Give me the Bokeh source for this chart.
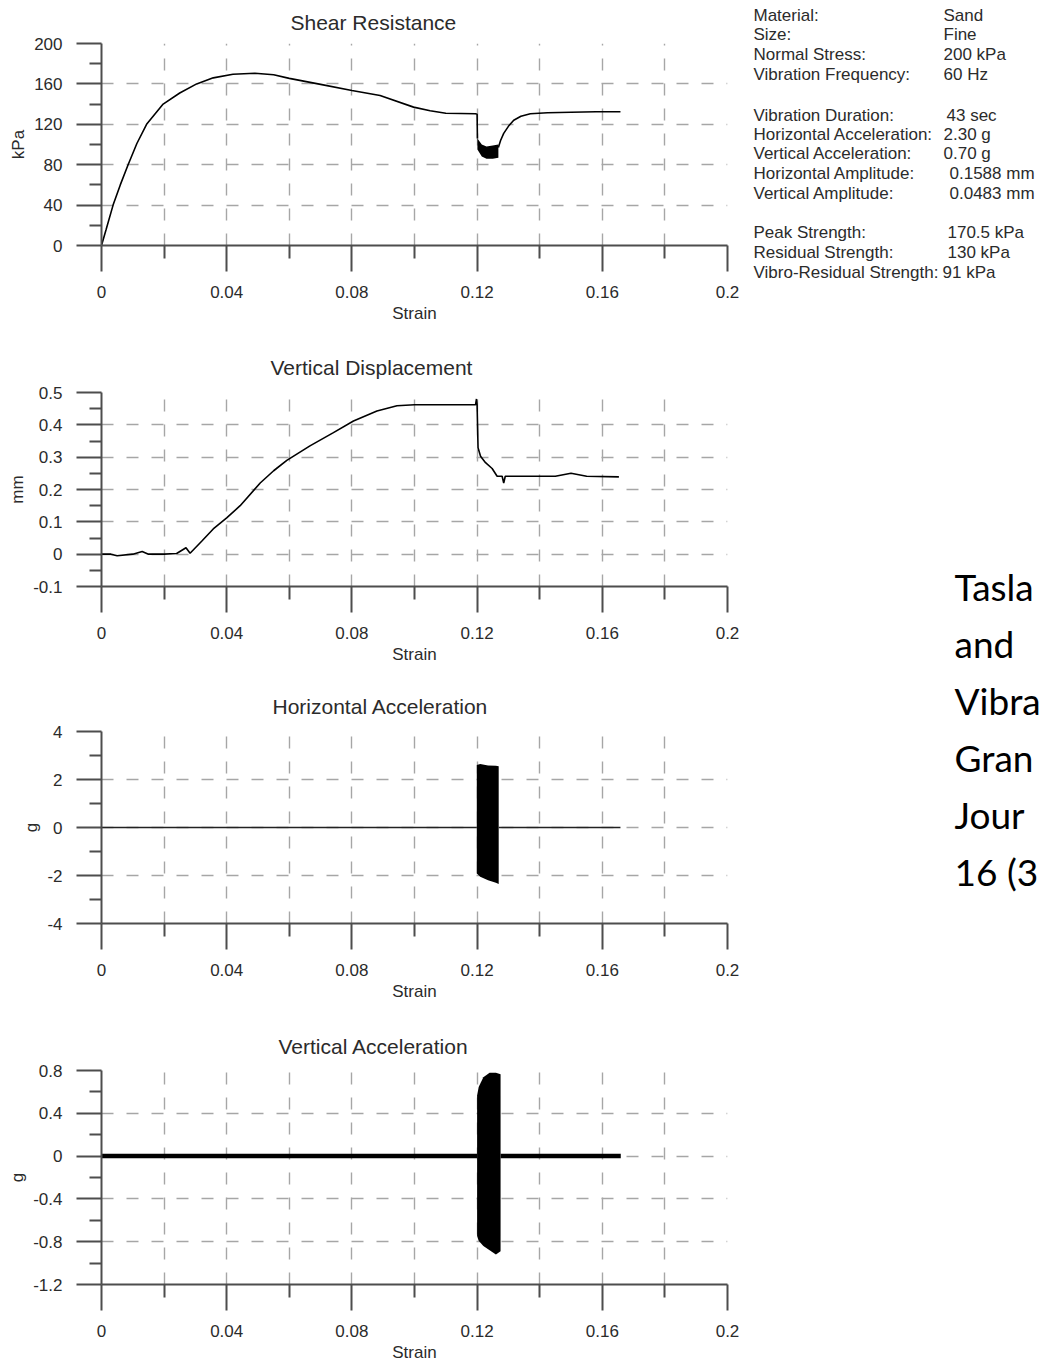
from bokeh.plotting import figure
from bokeh.layouts import column, row
from bokeh.models import Range1d, FixedTicker, Label, NumeralTickFormatter
from bokeh.embed import file_html
from bokeh.resources import INLINE

FONT = "Liberation Sans"
TXT = "#2b2b2b"
AXC = "#4d4d4d"
GRIDC = "#a6a6a6"

# ---------------- data ----------------
x_ticks = [0, 0.04, 0.08, 0.12, 0.16, 0.2]
x_minor = [0.02, 0.06, 0.1, 0.14, 0.18]
x_tick_labels = ["0", "0.04", "0.08", "0.12", "0.16", "0.2"]

# Shear resistance (kPa) vs strain
sr_pre_strain = [0, 0.0015, 0.0037, 0.006, 0.0085, 0.0113, 0.0144, 0.0197, 0.025, 0.0304,
                 0.0357, 0.042, 0.049, 0.055, 0.060, 0.070, 0.080, 0.089, 0.0997, 0.105,
                 0.110, 0.1195, 0.1200, 0.1201]
sr_pre_kpa = [0, 16, 40, 60, 80, 101, 120, 140, 151, 160,
              166, 169.5, 170.5, 169, 165.5, 159.5, 153.5, 148.5, 137, 133.5,
              131, 130.5, 130, 106]
sr_vib_strain = [0.1201, 0.1215, 0.1230, 0.1250, 0.1268]
sr_vib_hi = [106, 100, 98, 99, 100]
sr_vib_lo = [95, 88, 86, 86, 87]
sr_post_strain = [0.1268, 0.1275, 0.1285, 0.1300, 0.1317, 0.1340, 0.1370, 0.1425, 0.150, 0.158, 0.1658]
sr_post_kpa = [97, 104, 111, 118, 124, 128, 130.5, 131.5, 132, 132.5, 132.5]

# Vertical displacement (mm) vs strain
vd_strain = [0, 0.003, 0.005, 0.010, 0.013, 0.015, 0.020, 0.024, 0.027, 0.0283, 0.032, 0.0357,
             0.040, 0.0443, 0.0507, 0.055, 0.0592, 0.0666, 0.0741, 0.0805, 0.088, 0.0944,
             0.100, 0.110, 0.1195, 0.1198, 0.1200, 0.1203, 0.1211, 0.1227, 0.1248, 0.1264,
             0.1280, 0.1285, 0.1290, 0.135, 0.145, 0.150, 0.155, 0.1653]
vd_mm = [0, 0.0, -0.005, 0, 0.008, 0, 0, 0.002, 0.02, 0.003, 0.04, 0.078,
         0.112, 0.15, 0.22, 0.258, 0.29, 0.335, 0.376, 0.412, 0.443, 0.459,
         0.462, 0.462, 0.462, 0.48, 0.462, 0.329, 0.303, 0.283, 0.265, 0.241,
         0.241, 0.22, 0.241, 0.241, 0.241, 0.25, 0.241, 0.239]

# Horizontal acceleration (g) vs strain
ha_pre_strain = [0, 0.1199]
ha_pre_g = [0, 0]
ha_vib_strain = [0.1199, 0.1210, 0.1235, 0.1260, 0.1269]
ha_vib_hi = [2.6, 2.65, 2.58, 2.57, 2.55]
ha_vib_lo = [-1.92, -2.05, -2.2, -2.3, -2.35]
ha_post_strain = [0.1269, 0.1658]
ha_post_g = [0, 0]

# Vertical acceleration (g) vs strain
va_pre_strain = [0, 0.1200]
va_pre_g = [0, 0]
va_vib_strain = [0.1200, 0.1205, 0.1220, 0.1240, 0.1260, 0.1275]
va_vib_hi = [0.566, 0.645, 0.737, 0.78, 0.78, 0.765]
va_vib_lo = [-0.746, -0.79, -0.84, -0.88, -0.92, -0.89]
va_post_strain = [0.1275, 0.1659]
va_post_g = [0, 0]

# Test information
info_names = ["Material:", "Size:", "Normal Stress:", "Vibration Frequency:",
              "Vibration Duration:", "Horizontal Acceleration:", "Vertical Acceleration:",
              "Horizontal Amplitude:", "Vertical Amplitude:",
              "Peak Strength:", "Residual Strength:", "Vibro-Residual Strength:"]
info_values = ["Sand", "Fine", "200 kPa", "60 Hz",
               "43 sec", "2.30 g", "0.70 g", "0.1588 mm", "0.0483 mm",
               "170.5 kPa", "130 kPa", "91 kPa"]
info_y = [15, 34, 54, 74, 115, 134, 153, 173, 193, 232, 252, 272]
info_val_x = [203, 203, 203, 203, 206, 203, 203, 209, 209, 207, 207, 202]

ref_lines = ["Tasla", "and", "Vibra", "Gran", "Jour", "16 (3"]
ref_baseline = [586, 643, 700, 757, 814, 871]


def make_chart(title, title_left, title_standoff, ylabel, yr, yticks, ylabels, yminor, fmt,
               top, frame_h, bottom, lab_standoff=14, axlab_standoff=3):
    p = figure(frame_width=626, frame_height=frame_h,
               x_range=Range1d(0, 0.2), y_range=Range1d(yr[0], yr[1]),
               output_backend="svg", toolbar_location=None,
               min_border_left=101, min_border_right=13,
               min_border_top=top, min_border_bottom=bottom,
               background_fill_color="white", border_fill_color="white")
    p.outline_line_color = None
    p.title.text = title
    p.title.align = "left"
    p.title.vertical_align = "top"
    p.title.offset = title_left - 101
    p.title.standoff = title_standoff
    p.title.text_font = FONT
    p.title.text_font_size = "21px"
    p.title.text_font_style = "normal"
    p.title.text_color = TXT
    xt = FixedTicker(ticks=x_ticks, minor_ticks=x_minor)
    yt = FixedTicker(ticks=yticks, minor_ticks=yminor)
    xa = p.xaxis[0]
    ya = p.yaxis[0]
    xa.ticker = xt
    ya.ticker = yt
    p.xgrid[0].ticker = xt
    p.ygrid[0].ticker = yt
    xa.formatter = NumeralTickFormatter(format="0.[00]")
    ya.formatter = NumeralTickFormatter(format=fmt)
    xa.major_label_overrides = dict(zip(x_ticks, x_tick_labels))
    ya.major_label_overrides = dict(zip(yticks, ylabels))
    for ax in (xa, ya):
        ax.axis_line_color = AXC
        ax.axis_line_width = 2
        ax.major_tick_line_color = AXC
        ax.major_tick_line_width = 2
        ax.minor_tick_line_color = AXC
        ax.minor_tick_line_width = 2
        ax.major_tick_in = 0
        ax.minor_tick_in = 0
        ax.major_label_text_font = FONT
        ax.major_label_text_font_size = "17px"
        ax.major_label_text_color = TXT
        ax.axis_label_text_font = FONT
        ax.axis_label_text_font_size = "17px"
        ax.axis_label_text_font_style = "normal"
        ax.axis_label_text_color = TXT
    xa.major_tick_out = 26
    xa.minor_tick_out = 13
    ya.major_tick_out = 25
    ya.minor_tick_out = 12
    xa.major_label_standoff = lab_standoff
    xa.axis_label = "Strain"
    xa.axis_label_standoff = axlab_standoff
    ya.major_label_standoff = 14
    ya.axis_label = ylabel
    ya.axis_label_standoff = 3
    for g in (p.xgrid[0], p.ygrid[0]):
        g.grid_line_color = GRIDC
        g.grid_line_width = 1.4
        g.grid_line_dash = "12 13"
    p.xgrid[0].minor_grid_line_color = GRIDC
    p.xgrid[0].minor_grid_line_width = 1.4
    p.xgrid[0].minor_grid_line_dash = "12 13"
    return p


p1 = make_chart("Shear Resistance", 290, 16, "kPa", (0, 200),
                [0, 40, 80, 120, 160, 200], ["0", "40", "80", "120", "160", "200"],
                [20, 60, 100, 140, 180], "0", 43, 202, 95)
p1.line(sr_pre_strain, sr_pre_kpa, line_color="black", line_width=1.6)
p1.varea(x=sr_vib_strain, y1=sr_vib_lo, y2=sr_vib_hi, fill_color="black")
p1.line(sr_post_strain, sr_post_kpa, line_color="black", line_width=1.6)

p2 = make_chart("Vertical Displacement", 270, 24, "mm", (-0.1, 0.5),
                [-0.1, 0, 0.1, 0.2, 0.3, 0.4, 0.5],
                ["-0.1", "0", "0.1", "0.2", "0.3", "0.4", "0.5"],
                [-0.05, 0.05, 0.15, 0.25, 0.35, 0.45], "0.[0]", 52, 194, 94)
p2.line(vd_strain, vd_mm, line_color="black", line_width=1.6)

p3 = make_chart("Horizontal Acceleration", 272, 23, "g", (-4, 4),
                [-4, -2, 0, 2, 4], ["-4", "-2", "0", "2", "4"],
                [-3, -1, 1, 3], "0", 51, 192, 97)
p3.line(ha_pre_strain, ha_pre_g, line_color="#222222", line_width=1.5)
p3.varea(x=ha_vib_strain, y1=ha_vib_lo, y2=ha_vib_hi, fill_color="black")
p3.line(ha_post_strain, ha_post_g, line_color="#222222", line_width=1.5)

p4 = make_chart("Vertical Acceleration", 278, 22, "g", (-1.2, 0.8),
                [-1.2, -0.8, -0.4, 0, 0.4, 0.8],
                ["-1.2", "-0.8", "-0.4", "0", "0.4", "0.8"],
                [-1.0, -0.6, -0.2, 0.2, 0.6], "0.[0]", 50, 214, 78)
p4.line(va_pre_strain, va_pre_g, line_color="black", line_width=4.5)
p4.varea(x=va_vib_strain, y1=va_vib_lo, y2=va_vib_hi, fill_color="black")
p4.line(va_post_strain, va_post_g, line_color="black", line_width=4.5)

# right-hand text panel
t = figure(width=300, height=1362, x_range=Range1d(0, 300), y_range=Range1d(1362, 0),
           output_backend="svg", toolbar_location=None,
           min_border=0, min_border_left=0, min_border_right=0,
           min_border_top=0, min_border_bottom=0)
t.axis.visible = False
t.grid.visible = False
t.outline_line_color = None
for name, val, yy, vx in zip(info_names, info_values, info_y, info_val_x):
    t.add_layout(Label(x=13, y=yy, text=name, text_baseline="middle", text_align="left",
                       text_font=FONT, text_font_size="17px", text_color=TXT))
    t.add_layout(Label(x=vx, y=yy, text=val, text_baseline="middle", text_align="left",
                       text_font=FONT, text_font_size="17px", text_color=TXT))
for line, yb in zip(ref_lines, ref_baseline):
    t.add_layout(Label(x=214, y=yb, text=line, text_baseline="alphabetic", text_align="left",
                       text_font="Lato", text_font_size="37px", text_color="black"))

layout = row(column(p1, p2, p3, p4), t)
open("out.html", "w").write(file_html(layout, INLINE))
